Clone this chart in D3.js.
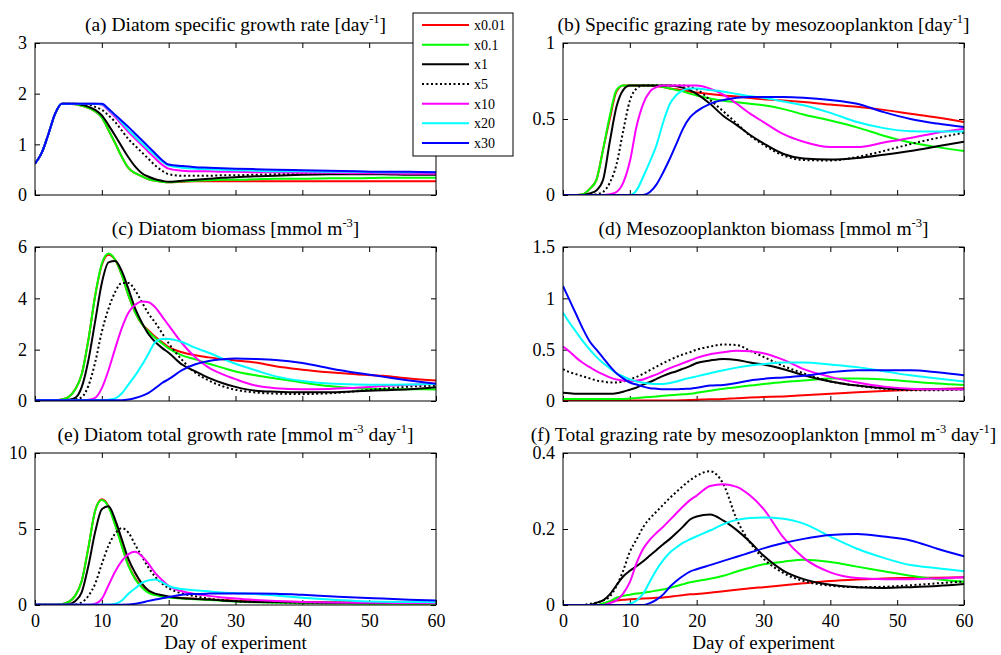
<!DOCTYPE html>
<html>
<head>
<meta charset="utf-8">
<script src="https://d3js.org/d3.v7.min.js"></script>
<style>
  body { margin: 0; background: #fff; }
  text { font-family: "Liberation Serif", "Times New Roman", serif; fill: #000; }
</style>
</head>
<body>
<svg width="1001" height="655"></svg>
<script>
// days sampled from the figure
var days = [0,1,2,3,4,5,6,7,8,9,10,11,12,13,14,15,16,17,18,19,20,22,24,26,28,30,33,36,40,44,48,52,56,60];

var runNames = ["x0.01", "x0.1", "x1", "x5", "x10", "x20", "x30"];
var runColors = ["#ff0000", "#00ff00", "#000000", "#000000", "#ff00ff", "#00ffff", "#0000ff"];

// (a) diatom specific growth rate
var growthA = [
  [0.62,0.83,1.2,1.6,1.8,1.8,1.79,1.76,1.72,1.65,1.53,1.28,1.02,0.75,0.53,0.43,0.37,0.31,0.28,0.26,0.25,0.26,0.27,0.27,0.27,0.27,0.27,0.27,0.27,0.27,0.27,0.27,0.27,0.27],
  [0.62,0.83,1.2,1.6,1.8,1.8,1.79,1.76,1.72,1.65,1.53,1.28,1.02,0.75,0.53,0.43,0.37,0.31,0.28,0.26,0.25,0.27,0.28,0.29,0.3,0.3,0.31,0.32,0.32,0.33,0.33,0.34,0.34,0.34],
  [0.62,0.83,1.2,1.6,1.8,1.8,1.8,1.78,1.74,1.68,1.57,1.38,1.17,0.95,0.74,0.56,0.43,0.36,0.31,0.28,0.26,0.28,0.3,0.32,0.34,0.35,0.37,0.38,0.4,0.41,0.41,0.41,0.4,0.4],
  [0.62,0.83,1.2,1.6,1.8,1.8,1.8,1.79,1.78,1.74,1.68,1.57,1.44,1.27,1.1,0.97,0.84,0.71,0.58,0.48,0.41,0.38,0.38,0.38,0.39,0.39,0.4,0.41,0.42,0.42,0.42,0.42,0.42,0.42],
  [0.62,0.83,1.2,1.6,1.8,1.8,1.8,1.8,1.8,1.8,1.78,1.67,1.54,1.39,1.24,1.11,0.98,0.85,0.72,0.6,0.52,0.48,0.47,0.47,0.46,0.46,0.45,0.45,0.44,0.44,0.43,0.43,0.42,0.42],
  [0.62,0.83,1.2,1.6,1.8,1.8,1.8,1.8,1.8,1.8,1.79,1.69,1.57,1.43,1.28,1.15,1.02,0.9,0.78,0.66,0.58,0.54,0.52,0.51,0.5,0.49,0.48,0.47,0.47,0.46,0.46,0.45,0.45,0.45],
  [0.62,0.83,1.2,1.6,1.8,1.8,1.8,1.8,1.8,1.8,1.8,1.7,1.58,1.46,1.34,1.21,1.08,0.95,0.82,0.69,0.6,0.57,0.55,0.54,0.53,0.52,0.51,0.5,0.49,0.48,0.47,0.46,0.46,0.45]
];

// (b) specific grazing rate by mesozooplankton
var grazingB = [
  [0,0,0,0.005,0.04,0.1,0.3,0.5,0.68,0.72,0.72,0.72,0.72,0.72,0.715,0.71,0.7,0.695,0.687,0.68,0.675,0.665,0.655,0.648,0.638,0.63,0.622,0.612,0.595,0.58,0.56,0.535,0.51,0.48],
  [0,0,0,0.005,0.04,0.1,0.3,0.52,0.69,0.72,0.72,0.72,0.72,0.72,0.72,0.71,0.7,0.69,0.68,0.667,0.655,0.635,0.62,0.61,0.6,0.59,0.565,0.53,0.49,0.445,0.39,0.345,0.315,0.29],
  [0,0,0,0,0.01,0.03,0.1,0.35,0.58,0.69,0.72,0.72,0.72,0.72,0.72,0.72,0.72,0.715,0.705,0.69,0.665,0.6,0.52,0.46,0.395,0.34,0.27,0.24,0.233,0.243,0.265,0.29,0.32,0.35],
  [0,0,0,0,0,0.005,0.02,0.08,0.2,0.42,0.62,0.7,0.72,0.72,0.72,0.72,0.72,0.72,0.72,0.71,0.695,0.625,0.55,0.47,0.39,0.33,0.26,0.23,0.227,0.25,0.29,0.335,0.375,0.41],
  [0,0,0,0,0,0,0,0.005,0.02,0.08,0.22,0.45,0.6,0.68,0.71,0.72,0.72,0.72,0.72,0.72,0.72,0.7,0.66,0.6,0.535,0.48,0.4,0.35,0.315,0.315,0.345,0.375,0.41,0.436],
  [0,0,0,0,0,0,0,0,0,0,0,0.03,0.12,0.22,0.33,0.48,0.6,0.66,0.69,0.7,0.7,0.69,0.68,0.665,0.65,0.64,0.615,0.59,0.54,0.48,0.44,0.42,0.418,0.418],
  [0,0,0,0,0,0,0,0,0,0,0,0,0,0.02,0.07,0.15,0.24,0.34,0.44,0.51,0.55,0.6,0.625,0.64,0.645,0.645,0.645,0.64,0.625,0.6,0.545,0.5,0.47,0.447]
];

// (c) diatom biomass
var diatomC = [
  [0.03,0.03,0.03,0.03,0.06,0.15,0.45,1.05,2.4,4.1,5.3,5.7,5.5,4.9,4.1,3.45,3.0,2.75,2.5,2.3,2.1,1.9,1.78,1.7,1.63,1.58,1.5,1.35,1.22,1.12,1.04,0.98,0.88,0.8],
  [0.03,0.03,0.03,0.03,0.06,0.15,0.45,1.05,2.4,4.1,5.35,5.75,5.5,4.9,4.1,3.45,3.0,2.7,2.45,2.25,2.05,1.78,1.62,1.45,1.3,1.15,1.0,0.88,0.72,0.58,0.5,0.47,0.46,0.45],
  [0.03,0.03,0.03,0.03,0.03,0.05,0.12,0.55,1.6,3.1,4.6,5.4,5.45,5.05,4.35,3.6,3.05,2.6,2.3,2.07,1.88,1.42,1.15,0.9,0.7,0.55,0.4,0.36,0.34,0.34,0.38,0.42,0.46,0.54],
  [0.03,0.03,0.03,0.03,0.03,0.03,0.06,0.15,0.6,1.5,2.7,3.6,4.25,4.6,4.6,4.3,3.85,3.4,3.05,2.65,2.25,1.6,1.1,0.8,0.58,0.44,0.33,0.29,0.27,0.3,0.38,0.48,0.56,0.6],
  [0.03,0.03,0.03,0.03,0.03,0.03,0.03,0.03,0.05,0.12,0.5,1.2,2.05,2.85,3.45,3.75,3.88,3.85,3.65,3.3,2.95,2.25,1.7,1.3,1.05,0.85,0.6,0.5,0.46,0.47,0.52,0.58,0.63,0.67],
  [0.03,0.03,0.03,0.03,0.03,0.03,0.03,0.03,0.03,0.03,0.03,0.05,0.1,0.3,0.65,1.0,1.4,1.85,2.3,2.42,2.42,2.3,2.07,1.88,1.66,1.45,1.2,0.96,0.78,0.68,0.64,0.63,0.64,0.66],
  [0.03,0.03,0.03,0.03,0.03,0.03,0.03,0.03,0.03,0.03,0.03,0.03,0.03,0.03,0.06,0.12,0.2,0.32,0.5,0.7,0.85,1.2,1.43,1.56,1.63,1.66,1.64,1.6,1.48,1.28,1.1,0.95,0.8,0.67]
];

// (d) mesozooplankton biomass
var zooD = [
  [0.005,0.005,0.005,0.005,0.005,0.005,0.005,0.005,0.005,0.005,0.005,0.005,0.005,0.005,0.005,0.005,0.005,0.006,0.008,0.01,0.012,0.016,0.02,0.027,0.033,0.038,0.045,0.055,0.07,0.085,0.097,0.107,0.117,0.123],
  [0.02,0.02,0.02,0.02,0.02,0.02,0.02,0.02,0.02,0.02,0.025,0.03,0.035,0.04,0.045,0.05,0.055,0.06,0.065,0.07,0.08,0.1,0.12,0.135,0.15,0.165,0.185,0.2,0.22,0.22,0.21,0.19,0.17,0.156],
  [0.08,0.075,0.07,0.07,0.07,0.07,0.07,0.07,0.075,0.09,0.11,0.13,0.16,0.185,0.215,0.245,0.27,0.29,0.315,0.34,0.37,0.395,0.41,0.4,0.375,0.355,0.31,0.25,0.19,0.15,0.125,0.115,0.115,0.115],
  [0.31,0.28,0.26,0.24,0.22,0.2,0.19,0.18,0.18,0.19,0.21,0.235,0.265,0.3,0.335,0.37,0.4,0.43,0.455,0.475,0.5,0.53,0.55,0.545,0.49,0.43,0.34,0.27,0.19,0.15,0.12,0.105,0.105,0.115],
  [0.53,0.48,0.42,0.37,0.33,0.29,0.26,0.23,0.21,0.2,0.19,0.2,0.21,0.235,0.26,0.29,0.32,0.345,0.37,0.395,0.42,0.455,0.475,0.49,0.485,0.465,0.4,0.31,0.235,0.18,0.14,0.12,0.115,0.115],
  [0.86,0.76,0.67,0.58,0.5,0.43,0.37,0.32,0.27,0.24,0.21,0.19,0.178,0.17,0.165,0.165,0.175,0.19,0.21,0.225,0.24,0.27,0.3,0.325,0.345,0.36,0.375,0.375,0.355,0.33,0.29,0.25,0.22,0.19],
  [1.12,0.98,0.84,0.7,0.58,0.5,0.42,0.34,0.27,0.22,0.18,0.16,0.14,0.125,0.12,0.115,0.115,0.115,0.118,0.12,0.13,0.15,0.157,0.175,0.2,0.215,0.23,0.245,0.28,0.3,0.3,0.3,0.28,0.25]
];

// (e) diatom total growth rate
var growthE = [
  [0.02,0.02,0.02,0.02,0.05,0.2,0.6,1.6,3.8,6.2,6.95,6.5,5.3,3.9,2.6,1.75,1.2,0.85,0.7,0.6,0.53,0.46,0.41,0.37,0.33,0.28,0.24,0.22,0.2,0.17,0.14,0.13,0.12,0.12],
  [0.02,0.02,0.02,0.02,0.05,0.2,0.6,1.6,3.8,6.2,6.9,6.45,5.25,3.85,2.55,1.7,1.15,0.8,0.65,0.55,0.5,0.43,0.38,0.33,0.28,0.23,0.18,0.15,0.12,0.1,0.09,0.08,0.08,0.1],
  [0.02,0.02,0.02,0.02,0.02,0.05,0.25,0.85,2.6,4.8,6.3,6.5,5.6,4.3,3.0,2.1,1.4,0.95,0.75,0.65,0.56,0.45,0.4,0.36,0.3,0.24,0.2,0.19,0.17,0.15,0.14,0.13,0.13,0.13],
  [0.02,0.02,0.02,0.02,0.02,0.02,0.05,0.18,0.6,1.4,2.7,3.9,4.7,5.05,4.75,3.95,3.2,2.45,1.85,1.42,1.1,0.76,0.58,0.42,0.32,0.25,0.2,0.18,0.16,0.15,0.14,0.13,0.13,0.13],
  [0.02,0.02,0.02,0.02,0.02,0.02,0.02,0.02,0.02,0.08,0.4,1.3,2.2,2.9,3.35,3.5,3.2,2.7,2.1,1.65,1.25,0.9,0.72,0.6,0.5,0.42,0.33,0.26,0.2,0.17,0.15,0.14,0.13,0.13],
  [0.02,0.02,0.02,0.02,0.02,0.02,0.02,0.02,0.02,0.02,0.02,0.02,0.08,0.3,0.75,1.1,1.45,1.62,1.67,1.5,1.25,1.05,0.97,0.9,0.83,0.78,0.72,0.62,0.48,0.36,0.27,0.22,0.2,0.18],
  [0.02,0.02,0.02,0.02,0.02,0.02,0.02,0.02,0.02,0.02,0.02,0.02,0.02,0.02,0.03,0.08,0.17,0.27,0.36,0.44,0.52,0.68,0.73,0.75,0.76,0.76,0.76,0.74,0.67,0.58,0.49,0.42,0.35,0.29]
];

// (f) total grazing rate by mesozooplankton
var grazingF = [
  [0,0,0,0,0,0,0.003,0.008,0.012,0.014,0.015,0.016,0.017,0.018,0.019,0.02,0.022,0.024,0.026,0.028,0.029,0.032,0.036,0.04,0.044,0.047,0.052,0.057,0.063,0.067,0.07,0.071,0.072,0.073],
  [0,0,0,0,0,0,0.004,0.01,0.019,0.024,0.027,0.03,0.032,0.035,0.038,0.041,0.045,0.05,0.055,0.06,0.063,0.069,0.077,0.088,0.098,0.107,0.114,0.119,0.113,0.101,0.089,0.077,0.068,0.061],
  [0,0,0,0,0,0.006,0.012,0.028,0.052,0.075,0.09,0.102,0.115,0.13,0.145,0.16,0.174,0.19,0.207,0.225,0.233,0.238,0.222,0.197,0.166,0.13,0.09,0.068,0.053,0.047,0.045,0.047,0.05,0.055],
  [0,0,0,0,0.003,0.006,0.012,0.022,0.05,0.09,0.14,0.172,0.205,0.228,0.246,0.264,0.282,0.298,0.314,0.328,0.34,0.352,0.318,0.225,0.164,0.122,0.084,0.063,0.051,0.047,0.048,0.052,0.057,0.062],
  [0,0,0,0,0,0,0,0.005,0.012,0.03,0.06,0.11,0.148,0.172,0.19,0.206,0.224,0.242,0.26,0.276,0.288,0.313,0.318,0.311,0.288,0.253,0.177,0.124,0.086,0.071,0.068,0.068,0.07,0.073],
  [0,0,0,0,0,0,0,0,0,0,0.003,0.012,0.03,0.062,0.093,0.118,0.138,0.152,0.164,0.173,0.181,0.196,0.213,0.224,0.229,0.23,0.227,0.214,0.18,0.148,0.124,0.105,0.097,0.089],
  [0,0,0,0,0,0,0,0,0,0,0,0,0,0.005,0.014,0.028,0.048,0.064,0.077,0.088,0.094,0.105,0.116,0.127,0.138,0.149,0.163,0.174,0.184,0.187,0.18,0.17,0.148,0.128]
];

var xTicks = [0, 10, 20, 30, 40, 50, 60];

var panels = [
  {data: growthA, title: [["(a) Diatom specific growth rate [day"], ["-1", 1], ["]"]],
   yMax: 3, yTicks: [0, 1, 2, 3], x0: 35, x1: 436, y0: 43, y1: 195, xLabels: false},
  {data: grazingB, title: [["(b) Specific grazing rate by mesozooplankton [day"], ["-1", 1], ["]"]],
   yMax: 1, yTicks: [0, 0.5, 1], x0: 563, x1: 964, y0: 43, y1: 195, xLabels: false},
  {data: diatomC, title: [["(c) Diatom biomass [mmol m"], ["-3", 1], ["]"]],
   yMax: 6, yTicks: [0, 2, 4, 6], x0: 35, x1: 436, y0: 247, y1: 401, xLabels: false},
  {data: zooD, title: [["(d) Mesozooplankton biomass [mmol m"], ["-3", 1], ["]"]],
   yMax: 1.5, yTicks: [0, 0.5, 1, 1.5], x0: 563, x1: 964, y0: 247, y1: 401, xLabels: false},
  {data: growthE, title: [["(e) Diatom total growth rate [mmol m"], ["-3", 1], [" day"], ["-1", 1], ["]"]],
   yMax: 10, yTicks: [0, 5, 10], x0: 35, x1: 436, y0: 453, y1: 605, xLabels: true},
  {data: grazingF, title: [["(f) Total grazing rate by mesozooplankton [mmol m"], ["-3", 1], [" day"], ["-1", 1], ["]"]],
   yMax: 0.4, yTicks: [0, 0.2, 0.4], x0: 563, x1: 964, y0: 453, y1: 605, xLabels: true}
];

var svg = d3.select("svg");
var tickLen = 5;

panels.forEach(function(p, pi) {
  var x = d3.scaleLinear().domain([0, 60]).range([p.x0, p.x1]);
  var y = d3.scaleLinear().domain([0, p.yMax]).range([p.y1, p.y0]);
  var g = svg.append("g");

  g.append("clipPath").attr("id", "clip" + pi)
    .append("rect").attr("x", p.x0).attr("y", p.y0)
    .attr("width", p.x1 - p.x0).attr("height", p.y1 - p.y0);

  // inward ticks on all four sides, like matlab
  var bottom = g.append("g").attr("transform", "translate(0," + p.y1 + ")")
    .call(d3.axisBottom(x).tickValues(xTicks).tickSizeInner(-tickLen).tickSizeOuter(0)
      .tickFormat(p.xLabels ? d3.format("d") : ""));
  g.append("g").attr("transform", "translate(0," + p.y0 + ")")
    .call(d3.axisTop(x).tickValues(xTicks).tickSizeInner(-tickLen).tickSizeOuter(0).tickFormat(""));
  var left = g.append("g").attr("transform", "translate(" + p.x0 + ",0)")
    .call(d3.axisLeft(y).tickValues(p.yTicks).tickSizeInner(-tickLen).tickSizeOuter(0)
      .tickFormat(function(d) { return String(d); }));
  g.append("g").attr("transform", "translate(" + p.x1 + ",0)")
    .call(d3.axisRight(y).tickValues(p.yTicks).tickSizeInner(-tickLen).tickSizeOuter(0).tickFormat(""));

  g.selectAll(".domain").remove();
  g.selectAll(".tick line").attr("stroke", "#000");
  g.selectAll(".tick text").attr("font-family", "Liberation Serif").attr("font-size", 18).attr("fill", "#000");
  left.selectAll(".tick text").attr("x", -8);
  if (p.xLabels) bottom.selectAll(".tick text").attr("y", 9);

  var line = d3.line()
    .x(function(d, i) { return x(days[i]); })
    .y(function(d) { return y(d); })
    .curve(d3.curveMonotoneX);

  var lines = g.append("g").attr("clip-path", "url(#clip" + pi + ")");
  p.data.forEach(function(series, si) {
    lines.append("path")
      .attr("d", line(series))
      .attr("fill", "none")
      .attr("stroke", runColors[si])
      .attr("stroke-width", 2)
      .attr("stroke-dasharray", si === 3 ? "2,2.5" : null);
  });

  // box
  g.append("rect").attr("x", p.x0).attr("y", p.y0)
    .attr("width", p.x1 - p.x0).attr("height", p.y1 - p.y0)
    .attr("fill", "none").attr("stroke", "#000").attr("stroke-width", 1);

  // title with superscripts
  var t = g.append("text")
    .attr("x", (p.x0 + p.x1) / 2).attr("y", p.y0 - 12)
    .attr("text-anchor", "middle").attr("font-size", 19.5);
  p.title.forEach(function(seg) {
    var sp = t.append("tspan").text(seg[0]);
    if (seg[1]) sp.attr("font-size", 12.5).attr("baseline-shift", "8");
  });

  if (p.xLabels) {
    g.append("text").attr("x", (p.x0 + p.x1) / 2).attr("y", 649)
      .attr("text-anchor", "middle").attr("font-size", 19).text("Day of experiment");
  }
});

// legend box over panel (a)
var leg = svg.append("g");
leg.append("rect").attr("x", 413).attr("y", 13).attr("width", 100).attr("height", 143)
  .attr("fill", "#fff").attr("stroke", "#000").attr("stroke-width", 1);
var legY = d3.scalePoint().domain(runNames).range([25, 143]);
runNames.forEach(function(name, i) {
  leg.append("line").attr("x1", 422).attr("x2", 469)
    .attr("y1", legY(name)).attr("y2", legY(name))
    .attr("stroke", runColors[i]).attr("stroke-width", 2)
    .attr("stroke-dasharray", i === 3 ? "2,2.5" : null);
  leg.append("text").attr("x", 474).attr("y", legY(name)).attr("dy", "0.35em")
    .attr("font-size", 14).text(name);
});
</script>
</body>
</html>
